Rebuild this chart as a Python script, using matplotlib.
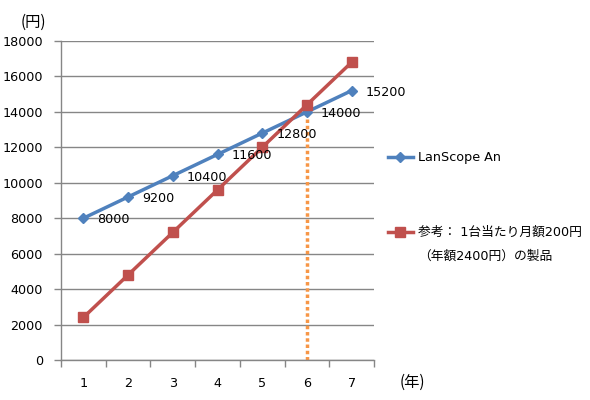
import matplotlib
matplotlib.use("Agg")
import matplotlib.pyplot as plt
from matplotlib.lines import Line2D

plt.rcParams['font.family'] = ['DejaVu Sans', 'Noto Sans CJK JP']

years = [1, 2, 3, 4, 5, 6, 7]
year_labels = ["1", "2", "3", "4", "5", "6", "7"]
lanscope = [8000, 9200, 10400, 11600, 12800, 14000, 15200]
reference = [2400, 4800, 7200, 9600, 12000, 14400, 16800]
series1_name = "LanScope An"
series2_line1 = "参考： 1台当たり月額200円"
series2_line2 = "（年額2400円）の製品"
y_ticks = [0, 2000, 4000, 6000, 8000, 10000, 12000, 14000, 16000, 18000]

BLUE = "#4F81BD"
RED = "#C0504D"
ORANGE = "#F79646"
GRID = "#868686"
FS = 9.2

W, H = 590, 400
fig = plt.figure(figsize=(W / 100, H / 100), dpi=100)
ax = fig.add_axes([61 / W, 40 / H, (374 - 61) / W, (360 - 41) / H])

ax.set_xlim(0.5, 7.5)
ax.set_ylim(0, 18000)

# grid
ax.set_yticks(y_ticks)
ax.set_yticklabels([str(v) for v in y_ticks], fontsize=FS)
ax.yaxis.grid(True, color=GRID, linewidth=1)
ax.set_axisbelow(True)

# x ticks at category boundaries, labels at centers
ax.set_xticks([i + 0.5 for i in range(0, 8)])
ax.set_xticklabels([])
ax.set_xticks(years, minor=True)
ax.set_xticklabels(year_labels, minor=True, fontsize=FS)
ax.tick_params(axis='x', which='major', length=5, color=GRID, width=1)
ax.tick_params(axis='x', which='minor', length=0, pad=12)
ax.tick_params(axis='y', length=5, color=GRID, width=1, pad=8)

for s in ['top', 'right']:
    ax.spines[s].set_visible(False)
for s in ['left', 'bottom']:
    ax.spines[s].set_color(GRID)
    ax.spines[s].set_linewidth(1)

# vertical dotted line at year 6
ax.vlines(years[5], 0, reference[5], colors=ORANGE, linestyles=(0, (1, 0.8)),
          linewidth=2.5, zorder=2)

ax.plot(years, lanscope, color=BLUE, linewidth=2.5, marker='D', markersize=5,
        zorder=3)
ax.plot(years, reference, color=RED, linewidth=2.5, marker='s', markersize=7,
        zorder=4)

for x, v in zip(years, lanscope):
    ax.annotate(str(v), (x, v), xytext=(10, -1), textcoords='offset points',
                va='center', ha='left', fontsize=FS, zorder=5)

fig.text(46 / W, 1 - 22 / H, "(円)", ha='right', va='center', fontsize=11,
         family=['Noto Sans CJK JP', 'DejaVu Sans'])
fig.text(400 / W, 1 - 382 / H, "(年)", ha='left', va='center', fontsize=11,
         family=['Noto Sans CJK JP', 'DejaVu Sans'])

# legend
fig.add_artist(Line2D([388 / W, 413 / W], [1 - 157 / H, 1 - 157 / H],
                      color=BLUE, linewidth=2.5))
fig.add_artist(Line2D([400 / W], [1 - 157 / H], color=BLUE, marker='D',
                      markersize=5))
fig.text(418 / W, 1 - 157 / H, series1_name, ha='left', va='center', fontsize=FS)
fig.add_artist(Line2D([388 / W, 413 / W], [1 - 232 / H, 1 - 232 / H],
                      color=RED, linewidth=2.5))
fig.add_artist(Line2D([400 / W], [1 - 232 / H], color=RED, marker='s',
                      markersize=7))
fig.text(418 / W, 1 - 232 / H, series2_line1, ha='left', va='center', fontsize=FS)
fig.text(418 / W, 1 - 256 / H, series2_line2, ha='left', va='center', fontsize=FS)

fig.savefig("out.png", dpi=100)
